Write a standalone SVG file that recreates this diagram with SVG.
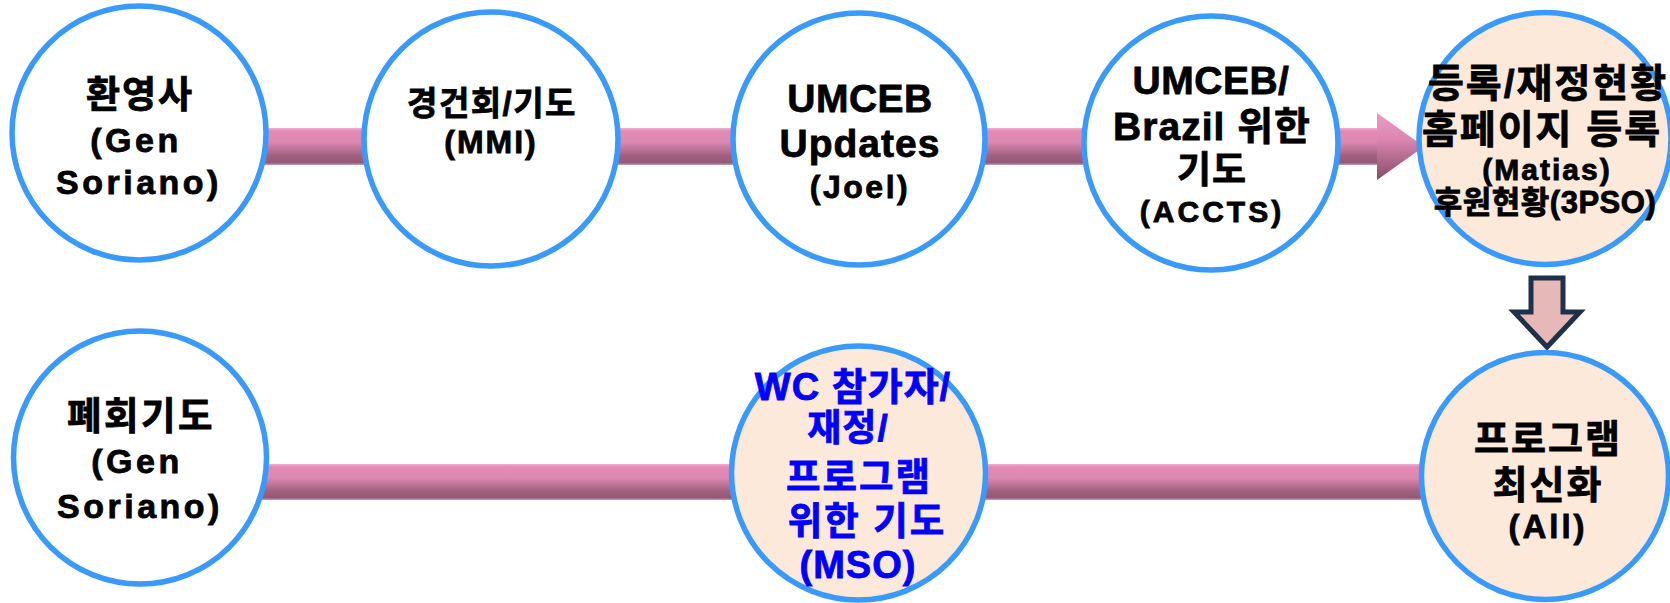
<svg xmlns="http://www.w3.org/2000/svg" width="1670" height="603" viewBox="0 0 1670 603">
<defs>
<style>
.n circle{stroke:#3A9AFC;stroke-width:5.5}
.w{fill:#FFFFFF}
.p{fill:#FDE9D9}
text{font-family:"Liberation Sans","Noto Sans CJK KR",sans-serif;font-weight:bold;text-anchor:middle;fill:#000000;stroke:#000000;stroke-width:0.8}
text.b{fill:#0000FF;stroke:#0000FF}
</style>
<linearGradient id="bar" x1="0" y1="0" x2="0" y2="1">
<stop offset="0" stop-color="#EBB3CE"/>
<stop offset="0.08" stop-color="#E28AB5"/>
<stop offset="0.38" stop-color="#DC88B1"/>
<stop offset="0.75" stop-color="#A1607F"/>
<stop offset="0.94" stop-color="#955876"/>
<stop offset="1" stop-color="#C9A4B6"/>
</linearGradient>
<linearGradient id="head" x1="0" y1="0" x2="0" y2="1">
<stop offset="0" stop-color="#EE9BC4"/>
<stop offset="0.4" stop-color="#DA86B0"/>
<stop offset="1" stop-color="#844B68"/>
</linearGradient>
<filter id="soft" x="-5%" y="-20%" width="110%" height="140%">
<feGaussianBlur stdDeviation="0.7"/>
</filter>
</defs>

<g id="connectors">
<g filter="url(#soft)">
<rect x="200" y="128" width="1180" height="37" fill="url(#bar)"/>
<polygon points="1377,113 1424,146.5 1377,180" fill="url(#head)"/>
<rect x="200" y="464" width="1230" height="36" fill="url(#bar)"/>
</g>
<polygon points="1531,278 1563,278 1563,312 1580,312 1547,347 1514,312 1531,312" fill="#E6B8B7" stroke="#1F3148" stroke-width="5" stroke-linejoin="miter"/>
</g>

<g id="n1" class="n">
<circle class="w" cx="139" cy="133" r="127"/>
<text x="140" y="108" font-size="37" letter-spacing="2">환영사</text>
<text x="136" y="152" font-size="34" letter-spacing="3.5">(Gen</text>
<text x="139" y="194" font-size="34" letter-spacing="3.5">Soriano)</text>
</g>

<g id="n2" class="n">
<circle class="w" cx="491" cy="139" r="127"/>
<text x="492" y="115" font-size="33" letter-spacing="1.5">경건회/기도</text>
<text x="491" y="153" font-size="32" letter-spacing="2">(MMI)</text>
</g>

<g id="n3" class="n">
<circle class="w" cx="859" cy="139" r="126"/>
<text x="860" y="112" font-size="39" letter-spacing="0.5">UMCEB</text>
<text x="860" y="157" font-size="39" letter-spacing="1">Updates</text>
<text x="860" y="198" font-size="32" letter-spacing="2.5">(Joel)</text>
</g>

<g id="n4" class="n">
<circle class="w" cx="1211" cy="143" r="127"/>
<text x="1211" y="94" font-size="39" letter-spacing="0.5">UMCEB/</text>
<text x="1212" y="140" font-size="39" letter-spacing="1">Brazil 위한</text>
<text x="1212" y="183" font-size="37" letter-spacing="1">기도</text>
<text x="1212" y="222" font-size="30" letter-spacing="3">(ACCTS)</text>
</g>

<g id="n5" class="n">
<circle class="p" cx="1545" cy="138.5" r="126"/>
<text x="1548" y="97" font-size="39" letter-spacing="2">등록/재정현황</text>
<text x="1542" y="143" font-size="39" letter-spacing="2">홈페이지 등록</text>
<text x="1547" y="180" font-size="30" letter-spacing="2">(Matias)</text>
<text x="1545" y="213" font-size="31" letter-spacing="0.5">후원현황(3PSO)</text>
</g>

<g id="n6" class="n">
<circle class="w" cx="140" cy="457.5" r="126.5"/>
<text x="141" y="429" font-size="37.5" letter-spacing="2.5">폐회기도</text>
<text x="137" y="473" font-size="34" letter-spacing="3.5">(Gen</text>
<text x="140" y="518" font-size="34" letter-spacing="3.5">Soriano)</text>
</g>

<g id="n7" class="n">
<circle class="p" cx="858.5" cy="473" r="127"/>
<text class="b" x="853" y="400" font-size="38" letter-spacing="1">WC 참가자/</text>
<text class="b" x="848" y="441" font-size="37" letter-spacing="1">재정/</text>
<text class="b" x="859" y="490" font-size="37.5" letter-spacing="2">프로그램</text>
<text class="b" x="867" y="534" font-size="37.5" letter-spacing="2">위한 기도</text>
<text class="b" x="858" y="578" font-size="38" letter-spacing="1">(MSO)</text>
</g>

<g id="n8" class="n">
<circle class="p" cx="1545" cy="476" r="123.5"/>
<text x="1548" y="452" font-size="38" letter-spacing="2">프로그램</text>
<text x="1548" y="498" font-size="38" letter-spacing="2">최신화</text>
<text x="1548" y="538" font-size="33" letter-spacing="3">(All)</text>
</g>
</svg>
